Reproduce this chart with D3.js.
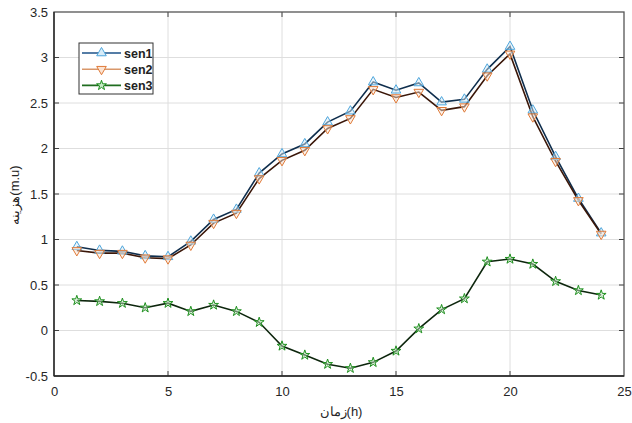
<!DOCTYPE html>
<html><head><meta charset="utf-8">
<script src="https://cdn.jsdelivr.net/npm/d3@7"></script>
<style>body{margin:0;background:#fff;} svg{display:block;}</style>
</head><body>
<svg id="c" width="632" height="423"></svg>
<script>
const hours = d3.range(1, 25);
const sen1 = [0.92,0.88,0.87,0.82,0.81,0.98,1.22,1.33,1.73,1.94,2.05,2.29,2.41,2.73,2.64,2.72,2.51,2.54,2.87,3.12,2.42,1.91,1.45,1.07];
const sen2 = [0.88,0.85,0.85,0.80,0.79,0.94,1.18,1.29,1.67,1.87,1.98,2.22,2.33,2.65,2.56,2.62,2.42,2.46,2.80,3.04,2.35,1.86,1.43,1.06];
const sen3 = [0.33,0.32,0.30,0.25,0.30,0.21,0.28,0.21,0.09,-0.17,-0.27,-0.37,-0.415,-0.35,-0.225,0.02,0.23,0.35,0.755,0.785,0.73,0.54,0.44,0.39];
const xTicks = [0,5,10,15,20,25];
const yTicks = [-0.5,0,0.5,1,1.5,2,2.5,3,3.5];
const seriesNames = ["sen1","sen2","sen3"];

const svg = d3.select("#c");
const L=54, R=624, T=12, B=376;
const x = d3.scaleLinear().domain([0,25]).range([L,R]);
const y = d3.scaleLinear().domain([-0.5,3.5]).range([B,T]);
const font = "'Liberation Sans', Arial, sans-serif";

// grid
const g = svg.append("g");
g.selectAll(".gx").data(xTicks.slice(1,-1)).join("line")
  .attr("x1",d=>x(d)).attr("x2",d=>x(d)).attr("y1",T).attr("y2",B)
  .attr("stroke","#dedede").attr("stroke-width",1);
g.selectAll(".gy").data(yTicks.slice(1,-1)).join("line")
  .attr("y1",d=>y(d)).attr("y2",d=>y(d)).attr("x1",L).attr("x2",R)
  .attr("stroke","#dedede").attr("stroke-width",1);

// axes
const axB = d3.axisBottom(x).tickValues(xTicks).tickSize(0).tickPadding(11).tickFormat(d3.format("d"));
const axL = d3.axisLeft(y).tickValues(yTicks).tickSize(0).tickPadding(6).tickFormat(d=>String(d));
const gb = svg.append("g").attr("transform",`translate(0,${B})`).call(axB);
const gl = svg.append("g").attr("transform",`translate(${L},0)`).call(axL);
[gb,gl].forEach(a=>{a.select(".domain").remove();
  a.selectAll("text").attr("font-family",font).attr("font-size",13).attr("fill","#262626");});

// inner ticks
const tk = svg.append("g").attr("stroke","#404040").attr("stroke-width",1);
xTicks.slice(1,-1).forEach(t=>{
  tk.append("line").attr("x1",x(t)).attr("x2",x(t)).attr("y1",B).attr("y2",B-5);
  tk.append("line").attr("x1",x(t)).attr("x2",x(t)).attr("y1",T).attr("y2",T+5);
});
yTicks.slice(1,-1).forEach(t=>{
  tk.append("line").attr("x1",L).attr("x2",L+5).attr("y1",y(t)).attr("y2",y(t));
  tk.append("line").attr("x1",R).attr("x2",R-5).attr("y1",y(t)).attr("y2",y(t));
});
// box
svg.append("rect").attr("x",L).attr("y",T).attr("width",R-L).attr("height",B-T)
  .attr("fill","none").attr("stroke","#555").attr("stroke-width",1.3);
svg.append("line").attr("x1",L).attr("x2",L).attr("y1",T).attr("y2",B).attr("stroke","#222").attr("stroke-width",1.3);
svg.append("line").attr("x1",L).attr("x2",R).attr("y1",B).attr("y2",B).attr("stroke","#222").attr("stroke-width",1.3);

const styles = [
  {data:sen1, line:"#0f2e4d", leg:"#1d5288", mk:"#4ea6dc", fill:"#d8ecf8", sym:d3.symbolTriangle, rot:0, size:40},
  {data:sen2, line:"#3a1608", leg:"#d9976a", mk:"#e07a38", fill:"#fbe3d2", sym:d3.symbolTriangle, rot:180, size:40},
  {data:sen3, line:"#0d260d", leg:"#1f6d1f", mk:"#1e8f1e", fill:"#c8ecc8", sym:d3.symbolStar, rot:0, size:30}
];
const lineGen = d3.line().x((d,i)=>x(hours[i])).y(d=>y(d));
styles.forEach(s=>{
  svg.append("path").datum(s.data).attr("d",lineGen)
    .attr("fill","none").attr("stroke",s.line).attr("stroke-width",1.6);
});
styles.forEach(s=>{
  svg.append("g").selectAll("path").data(s.data).join("path")
    .attr("d",d3.symbol().type(s.sym).size(s.size))
    .attr("transform",(d,i)=>`translate(${x(hours[i])},${y(d)}) rotate(${s.rot})`)
    .attr("fill",s.fill).attr("fill-opacity",0.5).attr("stroke",s.mk).attr("stroke-width",1);
});

// legend
const lg = svg.append("g");
lg.append("rect").attr("x",79).attr("y",43).attr("width",74).attr("height",51)
  .attr("fill","#fff").attr("stroke","#333").attr("stroke-width",1);
styles.forEach((s,i)=>{
  const yy = 53 + i*16.2;
  lg.append("line").attr("x1",82).attr("x2",121).attr("y1",yy).attr("y2",yy)
    .attr("stroke",s.leg).attr("stroke-width",1.6);
  lg.append("path").attr("d",d3.symbol().type(s.sym).size(s.size)())
    .attr("transform",`translate(101.5,${yy}) rotate(${s.rot})`)
    .attr("fill",s.fill).attr("stroke",s.mk).attr("stroke-width",1);
  lg.append("text").attr("x",124).attr("y",yy+4.5).text(seriesNames[i])
    .attr("font-family",font).attr("font-size",12.5).attr("font-weight","600").attr("fill","#222");
});

// axis labels
svg.append("text").attr("x",341).attr("y",416).attr("text-anchor","middle")
  .attr("font-family",font).attr("font-size",13).attr("fill","#262626").text("زمان(h)");
svg.append("text").attr("transform","translate(19,195) rotate(-90)").attr("text-anchor","middle")
  .attr("font-family",font).attr("font-size",13).attr("fill","#262626").text("هزینه(m.u)");
</script>
</body></html>
